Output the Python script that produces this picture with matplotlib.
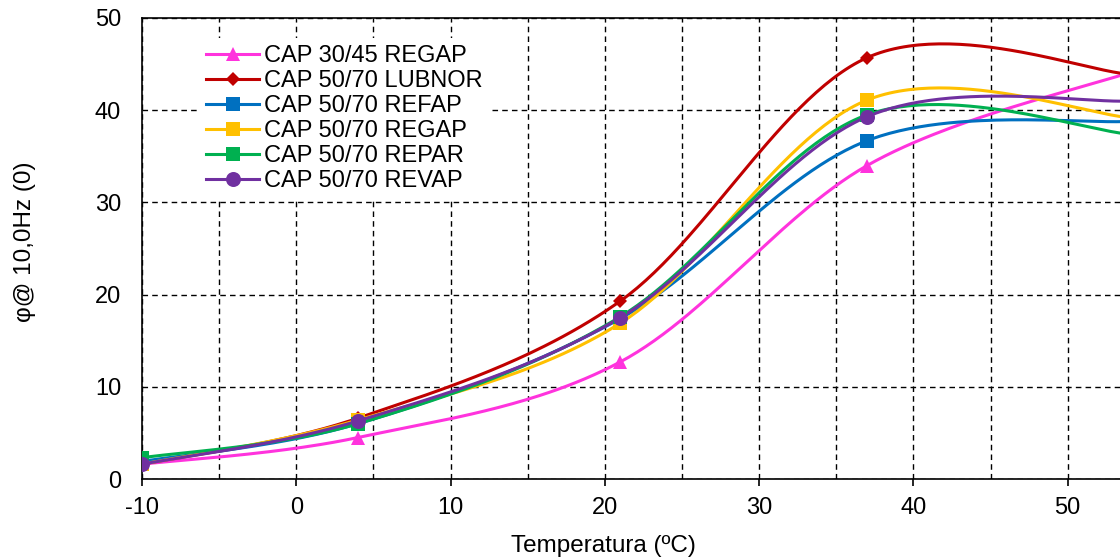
import numpy as np
import matplotlib
matplotlib.use("Agg")
import matplotlib.pyplot as plt
from matplotlib.ticker import MultipleLocator, FixedLocator

plt.rcParams['font.family'] = ['Liberation Sans', 'DejaVu Sans']
plt.rcParams['axes.unicode_minus'] = False

temps = [-10, 4, 21, 37, 54]
x_ticks = [-10, 0, 10, 20, 30, 40, 50]
series_names = ["CAP 30/45 REGAP", "CAP 50/70 LUBNOR", "CAP 50/70 REFAP",
                "CAP 50/70 REGAP", "CAP 50/70 REPAR", "CAP 50/70 REVAP"]
cap3045_regap = [1.6, 4.5, 12.7, 34.0, 44.1]
cap5070_lubnor = [1.6, 6.6, 19.3, 45.7, 43.9]
cap5070_refap = [1.9, 6.0, 17.4, 36.7, 38.8]
cap5070_regap = [1.6, 6.4, 16.9, 41.1, 39.2]
cap5070_repar = [2.3, 6.0, 17.6, 39.5, 37.4]
cap5070_revap = [1.6, 6.3, 17.5, 39.3, 41.0]
series_values = [cap3045_regap, cap5070_lubnor, cap5070_refap,
                 cap5070_regap, cap5070_repar, cap5070_revap]

colors = ['#FF33DD', '#C00000', '#0070C0', '#FFC000', '#00B050', '#7030A0']
markers = ['^', 'D', 's', 's', 's', 'o']
msizes = [10.5, 7, 10, 10, 10, 10.8]


def excel_smooth(xs, ys, n=60):
    P = np.column_stack([xs, ys]).astype(float)
    m = len(P)
    out = []
    for i in range(m - 1):
        p0 = P[i - 1] if i > 0 else P[i]
        p1 = P[i]
        p2 = P[i + 1]
        p3 = P[i + 2] if i + 2 < m else P[i + 1]
        c1 = p1 + (p2 - p0) / 6.0
        c2 = p2 - (p3 - p1) / 6.0
        t = np.linspace(0, 1, n)[:, None]
        b = ((1 - t) ** 3) * p1 + 3 * ((1 - t) ** 2) * t * c1 + 3 * (1 - t) * t ** 2 * c2 + t ** 3 * p2
        out.append(b if i == 0 else b[1:])
    B = np.vstack(out)
    return B[:, 0], B[:, 1]


fig = plt.figure(figsize=(11.2, 5.6), dpi=100)
ax = fig.add_axes([142 / 1120, (560 - 479) / 560, (1222 - 142) / 1120, (479 - 18) / 560])

for name, vals, c, mk, ms in zip(series_names, series_values, colors, markers, msizes):
    sx, sy = excel_smooth(temps, vals)
    ax.plot(sx, sy, color=c, lw=2.2, zorder=3)
    ax.plot(temps, vals, linestyle='none', marker=mk, color=c, markersize=ms, mew=0, zorder=4)
    ax.plot([], [], color=c, lw=2.2, marker=mk, markersize=ms, mew=0, label=name)

ax.set_xlim(-10, 60)
ax.set_ylim(0, 50)
ax.xaxis.set_major_locator(FixedLocator(x_ticks))
ax.xaxis.set_minor_locator(MultipleLocator(5))
ax.yaxis.set_major_locator(MultipleLocator(10))
ax.grid(True, which='both', axis='x', color='black', linestyle=(0, (4, 3)), lw=1.0)
ax.grid(True, which='major', axis='y', color='black', linestyle=(0, (4, 3)), lw=1.0)
ax.set_axisbelow(True)
for s in ax.spines.values():
    s.set_color('black')
    s.set_linewidth(1.2)
ax.tick_params(axis='x', which='major', direction='out', length=5, width=1.2, labelsize=17, pad=8)
ax.tick_params(axis='x', which='minor', length=0)
ax.tick_params(axis='y', which='major', length=0, labelsize=17, pad=15)

fig.text(603 / 1120, 1 - 546 / 560, "Temperatura (ºC)", ha='center', va='center', fontsize=17.5)
fig.text(25 / 1120, 1 - 242 / 560, "φ@ 10,0Hz (0)", ha='center', va='center', rotation=90, fontsize=17.5)

leg = ax.legend(loc='upper left', bbox_to_anchor=(199 / 1120, 1 - 38 / 560),
                bbox_transform=fig.transFigure, frameon=True, fancybox=False,
                facecolor='white', edgecolor='none', framealpha=1, fontsize=17,
                handlelength=2.25, handletextpad=0.2, labelspacing=0.13, borderpad=0.3,
                borderaxespad=0)
leg.set_zorder(5)

fig.savefig("out.png", dpi=100)
